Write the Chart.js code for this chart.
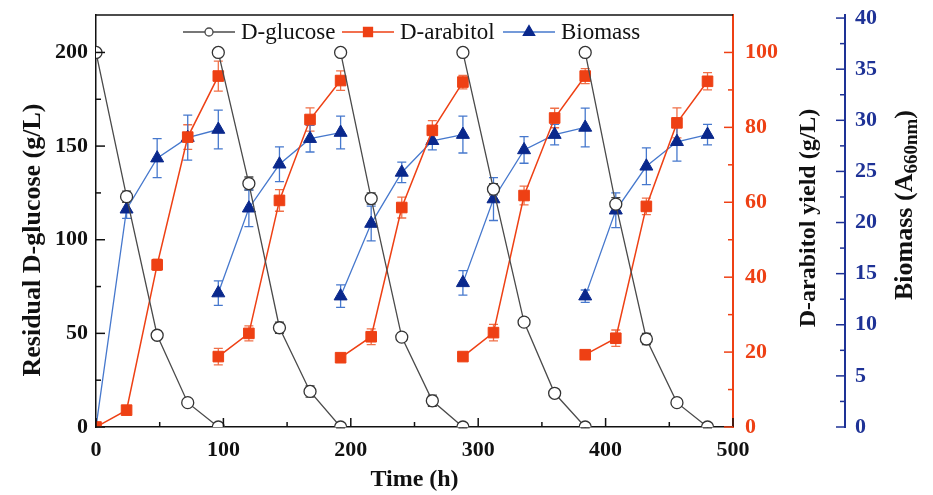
<!DOCTYPE html>
<html>
<head>
<meta charset="utf-8">
<script src="https://cdn.jsdelivr.net/npm/chart.js@4/dist/chart.umd.min.js"></script>
<style>
  html, body { margin: 0; padding: 0; background: #fff; }
</style>
</head>
<body>
<canvas id="chart" width="933" height="495"></canvas>
<script>
// Sampling times (h), five repeated-batch cycles of 96 h
const timeH = [0, 24, 48, 72, 96,
               96, 120, 144, 168, 192,
               192, 216, 240, 264, 288,
               288, 312, 336, 360, 384,
               384, 408, 432, 456, 480];

// Residual D-glucose (g/L)
const glucose    = [200, 123, 49, 13, 0,   200, 130, 53, 19, 0,   200, 122, 48, 14, 0,
                    200, 127, 56, 18, 0,   200, 119, 47, 13, 0];
const glucoseErr = [0, 3, 2, 1.5, 0,       0, 3.5, 3, 3, 0.5,     0, 3, 2, 3, 0.5,
                    0, 3, 1.5, 2, 0.5,     0, 3.5, 3, 2, 0.5];

// D-arabitol yield (g/L)
const arabitol    = [0, 4.5, 43.3, 77.4, 93.7,   18.8, 25.0, 60.5, 82.1, 92.5,   18.5, 24.1, 58.6, 79.2, 92.1,
                     18.8, 25.2, 61.8, 82.5, 93.7,   19.3, 23.7, 58.9, 81.2, 92.3];
const arabitolErr = [0, 0.5, 1.5, 3.3, 4,   2.2, 2, 2.9, 3.1, 2.6,   0.5, 2.1, 2.8, 2.6, 1.8,
                     0.5, 2.2, 2.5, 2.6, 2,   0.5, 2.2, 2.2, 4, 2.3];

// Biomass (A660nm)
const biomass    = [0, 21.3, 26.3, 28.3, 29.1,   13.1, 21.4, 25.7, 28.2, 28.8,   12.8, 19.9, 24.9, 28.0, 28.6,
                    14.1, 22.3, 27.1, 28.6, 29.3,   12.8, 21.2, 25.5, 27.9, 28.6];
const biomassErr = [0, 0.9, 1.9, 2.2, 1.9,   1.2, 1.8, 1.7, 1.3, 1.6,   1.1, 1.7, 1.0, 0.9, 1.8,
                    1.2, 2.1, 1.3, 1.0, 1.9,   0.6, 1.7, 1.8, 1.9, 1.0];

// biomass axis ticks (labels every 5, minor marks in between)
const biomassTicks = [0, 2.5, 5, 7.5, 10, 12.5, 15, 17.5, 20, 22.5, 25, 27.5, 30, 32.5, 35, 37.5, 40];

const pointsPerCycle = 5;

const GRAY = '#4a4a4a';
const ORANGE = 'rgb(238, 64, 20)';
const ORANGE_LIGHT = 'rgb(240, 112, 72)';
const NAVY = 'rgb(10, 40, 140)';
const BLUE_LINE = 'rgb(70, 120, 205)';
const AXIS_BLUE = 'rgb(30, 50, 150)';
const SERIF = '"Liberation Serif", "Times New Roman", serif';

// break the line between cycles with a null point
function toPoints(values, errs) {
    const out = [];
    values.forEach((v, i) => {
        if (i > 0 && i % pointsPerCycle === 0) out.push({ x: timeH[i], y: null });
        out.push({ x: timeH[i], y: v, err: errs[i] });
    });
    return out;
}

const isStep = (v, step) => Math.abs(v / step - Math.round(v / step)) < 1e-6;

// error bars, drawn under the markers
const errorBars = {
    id: 'errorBars',
    beforeDatasetsDraw(chart) {
        const ctx = chart.ctx;
        chart.data.datasets.forEach((ds) => {
            const ys = chart.scales[ds.yAxisID];
            const xs = chart.scales.x;
            ctx.save();
            ctx.strokeStyle = ds.errColor;
            ctx.lineWidth = 1.3;
            ds.data.forEach(p => {
                if (p.y === null || !p.err) return;
                const x = xs.getPixelForValue(p.x);
                const y1 = ys.getPixelForValue(p.y - p.err);
                const y2 = ys.getPixelForValue(p.y + p.err);
                ctx.beginPath();
                ctx.moveTo(x, y1); ctx.lineTo(x, y2);
                ctx.moveTo(x - 4.5, y1); ctx.lineTo(x + 4.5, y1);
                ctx.moveTo(x - 4.5, y2); ctx.lineTo(x + 4.5, y2);
                ctx.stroke();
            });
            ctx.restore();
        });
    }
};

function drawMarker(ctx, style, x, y, r, fill, stroke) {
    ctx.save();
    ctx.fillStyle = fill;
    ctx.strokeStyle = stroke;
    ctx.lineWidth = 1.3;
    ctx.beginPath();
    if (style === 'circle') {
        ctx.arc(x, y, r, 0, Math.PI * 2);
    } else if (style === 'rect') {
        ctx.rect(x - r, y - r, 2 * r, 2 * r);
    } else {
        ctx.moveTo(x, y - r);
        ctx.lineTo(x + r * 0.87, y + r * 0.5);
        ctx.lineTo(x - r * 0.87, y + r * 0.5);
        ctx.closePath();
    }
    ctx.fill();
    ctx.stroke();
    ctx.restore();
}

// inward tick marks, frame, legend and the rotated titles
const decorations = {
    id: 'decorations',
    afterDraw(chart) {
        const ctx = chart.ctx;
        const area = chart.chartArea;
        const s = chart.scales;

        function ticks(scale, minor, major, limit, color, draw) {
            ctx.save();
            ctx.strokeStyle = color;
            ctx.lineWidth = 1.5;
            scale.ticks.forEach(t => {
                const v = t.value;
                if (!isStep(v, minor) || v > limit) return;
                const len = isStep(v, major) ? 9 : 5;
                const p = scale.getPixelForValue(v);
                ctx.beginPath();
                draw(p, len);
                ctx.stroke();
            });
            ctx.restore();
        }
        ticks(s.y, 25, 50, 200, '#111', (p, len) => { ctx.moveTo(area.left, p); ctx.lineTo(area.left + len, p); });
        ticks(s.x, 50, 100, 500, '#111', (p, len) => { ctx.moveTo(p, area.bottom); ctx.lineTo(p, area.bottom - len); });
        ticks(s.y1, 10, 20, 100, ORANGE, (p, len) => { ctx.moveTo(area.right, p); ctx.lineTo(area.right - len, p); });
        ticks(s.y2, 2.5, 5, 40, AXIS_BLUE, (p, len) => { ctx.moveTo(s.y2.left, p); ctx.lineTo(s.y2.left - len, p); });

        // top frame line
        ctx.save();
        ctx.strokeStyle = '#111';
        ctx.lineWidth = 1.5;
        ctx.beginPath();
        ctx.moveTo(area.left, area.top);
        ctx.lineTo(area.right, area.top);
        ctx.stroke();
        ctx.restore();

        // legend
        const legendY = 32;
        const items = [
            { x0: 183, x1: 235, label: 'D-glucose', style: 'circle', r: 4, line: GRAY, fill: '#fff', stroke: GRAY },
            { x0: 342, x1: 394, label: 'D-arabitol', style: 'rect', r: 4.5, line: ORANGE, fill: ORANGE, stroke: ORANGE },
            { x0: 503, x1: 555, label: 'Biomass', style: 'triangle', r: 6.5, line: BLUE_LINE, fill: NAVY, stroke: NAVY }
        ];
        ctx.save();
        ctx.font = '23px ' + SERIF;
        ctx.textBaseline = 'middle';
        ctx.fillStyle = '#111';
        items.forEach(it => {
            ctx.strokeStyle = it.line;
            ctx.lineWidth = 1.3;
            ctx.beginPath();
            ctx.moveTo(it.x0, legendY);
            ctx.lineTo(it.x1, legendY);
            ctx.stroke();
            drawMarker(ctx, it.style, (it.x0 + it.x1) / 2, legendY, it.r, it.fill, it.stroke);
            ctx.fillText(it.label, it.x1 + 6, legendY + 1);
        });
        ctx.restore();

        // rotated axis titles
        function vTitle(text, x, y, size) {
            ctx.save();
            ctx.fillStyle = '#111';
            ctx.textBaseline = 'middle';
            ctx.textAlign = 'center';
            ctx.font = 'bold ' + size + 'px ' + SERIF;
            ctx.translate(x, y);
            ctx.rotate(-Math.PI / 2);
            ctx.fillText(text, 0, 0);
            ctx.restore();
        }
        vTitle('Residual D-glucose (g/L)', 33, 240, 26);
        vTitle('D-arabitol yield (g/L)', 809, 218, 24);

        ctx.save();
        ctx.fillStyle = '#111';
        ctx.textBaseline = 'middle';
        ctx.textAlign = 'left';
        ctx.translate(905, 205);
        ctx.rotate(-Math.PI / 2);
        const big = 'bold 26px ' + SERIF, small = 'bold 19px ' + SERIF;
        ctx.font = big;
        const w1 = ctx.measureText('Biomass (A').width;
        const w3 = ctx.measureText(')').width;
        ctx.font = small;
        const w2 = ctx.measureText('660nm').width;
        let x = -(w1 + w2 + w3) / 2;
        ctx.font = big;
        ctx.fillText('Biomass (A', x, 0);
        x += w1;
        ctx.font = small;
        ctx.fillText('660nm', x, 7);
        x += w2;
        ctx.font = big;
        ctx.fillText(')', x, 0);
        ctx.restore();
    }
};

const tickFont = { family: SERIF, size: 22, weight: 'bold' };

// no extra half-label padding, so the plot box sits where the reference has it
const noPad = sc => { sc.paddingTop = 0; sc.paddingBottom = 0; sc.paddingLeft = 0; sc.paddingRight = 0; };

new Chart(document.getElementById('chart'), {
    type: 'line',
    data: {
        datasets: [
            {
                label: 'D-glucose',
                data: toPoints(glucose, glucoseErr),
                yAxisID: 'y',
                borderColor: GRAY,
                borderWidth: 1.3,
                pointStyle: 'circle',
                pointRadius: 6,
                pointBackgroundColor: '#fff',
                pointBorderColor: '#333',
                pointBorderWidth: 1.3,
                errColor: '#444',
                tension: 0,
                spanGaps: false,
                order: 1
            },
            {
                label: 'D-arabitol',
                data: toPoints(arabitol, arabitolErr),
                yAxisID: 'y1',
                borderColor: ORANGE,
                borderWidth: 1.5,
                pointStyle: 'rect',
                pointRadius: 7.5,
                pointBackgroundColor: ORANGE,
                pointBorderColor: ORANGE,
                pointBorderWidth: 1,
                errColor: ORANGE_LIGHT,
                tension: 0,
                spanGaps: false,
                order: 2
            },
            {
                label: 'Biomass',
                data: toPoints(biomass, biomassErr),
                yAxisID: 'y2',
                borderColor: BLUE_LINE,
                borderWidth: 1.3,
                pointStyle: 'triangle',
                pointRadius: 7.5,
                pointBackgroundColor: NAVY,
                pointBorderColor: NAVY,
                pointBorderWidth: 1,
                errColor: BLUE_LINE,
                tension: 0,
                spanGaps: false,
                order: 3
            }
        ]
    },
    options: {
        responsive: false,
        animation: false,
        layout: { padding: { top: 15, left: 0, right: 0, bottom: 0 } },
        plugins: { legend: { display: false }, tooltip: { enabled: false } },
        scales: {
            x: {
                type: 'linear',
                min: 0, max: 500,
                grid: { display: false, drawTicks: false },
                border: { display: true, color: '#111', width: 1.5 },
                ticks: {
                    stepSize: 50, autoSkip: false, maxRotation: 0, padding: 10,
                    color: '#111', font: tickFont,
                    callback: v => isStep(v, 100) ? String(v) : ''
                },
                title: {
                    display: true, text: 'Time (h)', color: '#111',
                    font: { family: SERIF, size: 24, weight: 'bold' },
                    padding: { top: 0, bottom: 1 }
                },
                afterFit: sc => { noPad(sc); sc.height = 68; }
            },
            y: {
                position: 'left',
                min: 0, max: 220,
                grid: { display: false, drawTicks: false },
                border: { display: true, color: '#111', width: 1.5 },
                ticks: {
                    stepSize: 25, autoSkip: false, padding: 8,
                    color: '#111', font: tickFont,
                    callback: v => (isStep(v, 50) && v <= 200) ? String(v) : ''
                },
                afterFit: sc => { noPad(sc); sc.width = 96; }
            },
            y1: {
                position: 'right',
                min: 0, max: 110,
                grid: { display: false, drawTicks: false },
                border: { display: true, color: ORANGE, width: 2 },
                ticks: {
                    stepSize: 10, autoSkip: false, padding: 12,
                    color: ORANGE, font: tickFont,
                    callback: v => (isStep(v, 20) && v <= 100) ? String(v) : ''
                },
                afterFit: sc => { noPad(sc); sc.width = 112; }
            },
            y2: {
                position: 'right',
                min: 0, max: 40.3,
                grid: { display: false, drawTicks: false },
                border: { display: true, color: AXIS_BLUE, width: 2 },
                afterBuildTicks: sc => { sc.ticks = biomassTicks.map(v => ({ value: v })); },
                ticks: {
                    autoSkip: false, padding: 10,
                    color: AXIS_BLUE, font: tickFont,
                    callback: v => isStep(v, 5) ? String(v) : ''
                },
                afterFit: sc => { noPad(sc); sc.width = 88; }
            }
        }
    },
    plugins: [errorBars, decorations]
});
</script>
</body>
</html>
